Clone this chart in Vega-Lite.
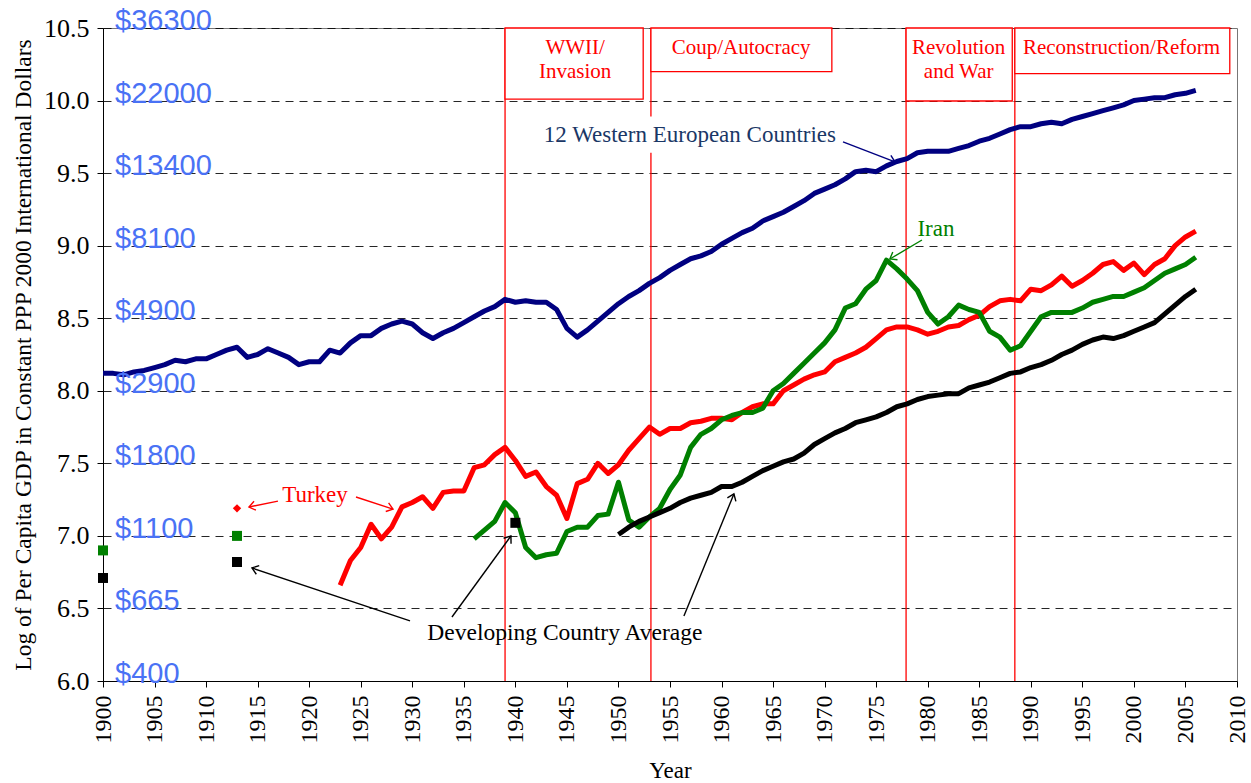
{
  "$schema": "https://vega.github.io/schema/vega-lite/v6.json",
  "width": 1134,
  "height": 653,
  "autosize": {"type": "none"},
  "padding": {"left": 103, "top": 28, "right": 14, "bottom": 102},
  "background": "white",
  "config": {
    "font": "Liberation Serif",
    "view": {"stroke": "#777", "strokeWidth": 1},
    "axis": {
      "labelFont": "Liberation Serif",
      "titleFont": "Liberation Serif",
      "labelColor": "#000",
      "titleColor": "#000",
      "domainColor": "#000",
      "tickColor": "#000",
      "titleFontWeight": "normal",
      "labelFontSize": 22,
      "titleFontSize": 21
    }
  },
  "datasets": {
    "series": [
      {"series":"Western Europe","year":1900,"value":8.12},{"series":"Western Europe","year":1901,"value":8.12},{"series":"Western Europe","year":1902,"value":8.11},{"series":"Western Europe","year":1903,"value":8.13},{"series":"Western Europe","year":1904,"value":8.14},{"series":"Western Europe","year":1905,"value":8.16},{"series":"Western Europe","year":1906,"value":8.18},{"series":"Western Europe","year":1907,"value":8.21},{"series":"Western Europe","year":1908,"value":8.20},{"series":"Western Europe","year":1909,"value":8.22},{"series":"Western Europe","year":1910,"value":8.22},{"series":"Western Europe","year":1911,"value":8.25},{"series":"Western Europe","year":1912,"value":8.28},{"series":"Western Europe","year":1913,"value":8.30},{"series":"Western Europe","year":1914,"value":8.23},{"series":"Western Europe","year":1915,"value":8.25},{"series":"Western Europe","year":1916,"value":8.29},{"series":"Western Europe","year":1917,"value":8.26},{"series":"Western Europe","year":1918,"value":8.23},{"series":"Western Europe","year":1919,"value":8.18},{"series":"Western Europe","year":1920,"value":8.20},{"series":"Western Europe","year":1921,"value":8.20},{"series":"Western Europe","year":1922,"value":8.28},{"series":"Western Europe","year":1923,"value":8.26},{"series":"Western Europe","year":1924,"value":8.33},{"series":"Western Europe","year":1925,"value":8.38},{"series":"Western Europe","year":1926,"value":8.38},{"series":"Western Europe","year":1927,"value":8.43},{"series":"Western Europe","year":1928,"value":8.46},{"series":"Western Europe","year":1929,"value":8.48},{"series":"Western Europe","year":1930,"value":8.46},{"series":"Western Europe","year":1931,"value":8.40},{"series":"Western Europe","year":1932,"value":8.36},{"series":"Western Europe","year":1933,"value":8.40},{"series":"Western Europe","year":1934,"value":8.43},{"series":"Western Europe","year":1935,"value":8.47},{"series":"Western Europe","year":1936,"value":8.51},{"series":"Western Europe","year":1937,"value":8.55},{"series":"Western Europe","year":1938,"value":8.58},{"series":"Western Europe","year":1939,"value":8.63},{"series":"Western Europe","year":1940,"value":8.61},{"series":"Western Europe","year":1941,"value":8.62},{"series":"Western Europe","year":1942,"value":8.61},{"series":"Western Europe","year":1943,"value":8.61},{"series":"Western Europe","year":1944,"value":8.56},{"series":"Western Europe","year":1945,"value":8.43},{"series":"Western Europe","year":1946,"value":8.37},{"series":"Western Europe","year":1947,"value":8.42},{"series":"Western Europe","year":1948,"value":8.48},{"series":"Western Europe","year":1949,"value":8.54},{"series":"Western Europe","year":1950,"value":8.60},{"series":"Western Europe","year":1951,"value":8.65},{"series":"Western Europe","year":1952,"value":8.69},{"series":"Western Europe","year":1953,"value":8.74},{"series":"Western Europe","year":1954,"value":8.78},{"series":"Western Europe","year":1955,"value":8.83},{"series":"Western Europe","year":1956,"value":8.87},{"series":"Western Europe","year":1957,"value":8.91},{"series":"Western Europe","year":1958,"value":8.93},{"series":"Western Europe","year":1959,"value":8.96},{"series":"Western Europe","year":1960,"value":9.01},{"series":"Western Europe","year":1961,"value":9.05},{"series":"Western Europe","year":1962,"value":9.09},{"series":"Western Europe","year":1963,"value":9.12},{"series":"Western Europe","year":1964,"value":9.17},{"series":"Western Europe","year":1965,"value":9.20},{"series":"Western Europe","year":1966,"value":9.23},{"series":"Western Europe","year":1967,"value":9.27},{"series":"Western Europe","year":1968,"value":9.31},{"series":"Western Europe","year":1969,"value":9.36},{"series":"Western Europe","year":1970,"value":9.39},{"series":"Western Europe","year":1971,"value":9.42},{"series":"Western Europe","year":1972,"value":9.46},{"series":"Western Europe","year":1973,"value":9.51},{"series":"Western Europe","year":1974,"value":9.52},{"series":"Western Europe","year":1975,"value":9.51},{"series":"Western Europe","year":1976,"value":9.55},{"series":"Western Europe","year":1977,"value":9.58},{"series":"Western Europe","year":1978,"value":9.60},{"series":"Western Europe","year":1979,"value":9.64},{"series":"Western Europe","year":1980,"value":9.65},{"series":"Western Europe","year":1981,"value":9.65},{"series":"Western Europe","year":1982,"value":9.65},{"series":"Western Europe","year":1983,"value":9.67},{"series":"Western Europe","year":1984,"value":9.69},{"series":"Western Europe","year":1985,"value":9.72},{"series":"Western Europe","year":1986,"value":9.74},{"series":"Western Europe","year":1987,"value":9.77},{"series":"Western Europe","year":1988,"value":9.80},{"series":"Western Europe","year":1989,"value":9.82},{"series":"Western Europe","year":1990,"value":9.82},{"series":"Western Europe","year":1991,"value":9.84},{"series":"Western Europe","year":1992,"value":9.85},{"series":"Western Europe","year":1993,"value":9.84},{"series":"Western Europe","year":1994,"value":9.87},{"series":"Western Europe","year":1995,"value":9.89},{"series":"Western Europe","year":1996,"value":9.91},{"series":"Western Europe","year":1997,"value":9.93},{"series":"Western Europe","year":1998,"value":9.95},{"series":"Western Europe","year":1999,"value":9.97},{"series":"Western Europe","year":2000,"value":10.00},{"series":"Western Europe","year":2001,"value":10.01},{"series":"Western Europe","year":2002,"value":10.02},{"series":"Western Europe","year":2003,"value":10.02},{"series":"Western Europe","year":2004,"value":10.04},{"series":"Western Europe","year":2005,"value":10.05},{"series":"Western Europe","year":2006,"value":10.07},
      {"series":"Turkey","year":1923,"value":6.66},{"series":"Turkey","year":1924,"value":6.83},{"series":"Turkey","year":1925,"value":6.92},{"series":"Turkey","year":1926,"value":7.08},{"series":"Turkey","year":1927,"value":6.98},{"series":"Turkey","year":1928,"value":7.06},{"series":"Turkey","year":1929,"value":7.20},{"series":"Turkey","year":1930,"value":7.23},{"series":"Turkey","year":1931,"value":7.27},{"series":"Turkey","year":1932,"value":7.19},{"series":"Turkey","year":1933,"value":7.30},{"series":"Turkey","year":1934,"value":7.31},{"series":"Turkey","year":1935,"value":7.31},{"series":"Turkey","year":1936,"value":7.47},{"series":"Turkey","year":1937,"value":7.49},{"series":"Turkey","year":1938,"value":7.56},{"series":"Turkey","year":1939,"value":7.61},{"series":"Turkey","year":1940,"value":7.52},{"series":"Turkey","year":1941,"value":7.41},{"series":"Turkey","year":1942,"value":7.44},{"series":"Turkey","year":1943,"value":7.34},{"series":"Turkey","year":1944,"value":7.28},{"series":"Turkey","year":1945,"value":7.12},{"series":"Turkey","year":1946,"value":7.36},{"series":"Turkey","year":1947,"value":7.39},{"series":"Turkey","year":1948,"value":7.50},{"series":"Turkey","year":1949,"value":7.43},{"series":"Turkey","year":1950,"value":7.49},{"series":"Turkey","year":1951,"value":7.59},{"series":"Turkey","year":1952,"value":7.67},{"series":"Turkey","year":1953,"value":7.75},{"series":"Turkey","year":1954,"value":7.70},{"series":"Turkey","year":1955,"value":7.74},{"series":"Turkey","year":1956,"value":7.74},{"series":"Turkey","year":1957,"value":7.78},{"series":"Turkey","year":1958,"value":7.79},{"series":"Turkey","year":1959,"value":7.81},{"series":"Turkey","year":1960,"value":7.81},{"series":"Turkey","year":1961,"value":7.80},{"series":"Turkey","year":1962,"value":7.85},{"series":"Turkey","year":1963,"value":7.89},{"series":"Turkey","year":1964,"value":7.91},{"series":"Turkey","year":1965,"value":7.91},{"series":"Turkey","year":1966,"value":8.00},{"series":"Turkey","year":1967,"value":8.04},{"series":"Turkey","year":1968,"value":8.08},{"series":"Turkey","year":1969,"value":8.11},{"series":"Turkey","year":1970,"value":8.13},{"series":"Turkey","year":1971,"value":8.20},{"series":"Turkey","year":1972,"value":8.23},{"series":"Turkey","year":1973,"value":8.26},{"series":"Turkey","year":1974,"value":8.30},{"series":"Turkey","year":1975,"value":8.36},{"series":"Turkey","year":1976,"value":8.42},{"series":"Turkey","year":1977,"value":8.44},{"series":"Turkey","year":1978,"value":8.44},{"series":"Turkey","year":1979,"value":8.42},{"series":"Turkey","year":1980,"value":8.39},{"series":"Turkey","year":1981,"value":8.41},{"series":"Turkey","year":1982,"value":8.44},{"series":"Turkey","year":1983,"value":8.45},{"series":"Turkey","year":1984,"value":8.49},{"series":"Turkey","year":1985,"value":8.52},{"series":"Turkey","year":1986,"value":8.58},{"series":"Turkey","year":1987,"value":8.62},{"series":"Turkey","year":1988,"value":8.63},{"series":"Turkey","year":1989,"value":8.62},{"series":"Turkey","year":1990,"value":8.70},{"series":"Turkey","year":1991,"value":8.69},{"series":"Turkey","year":1992,"value":8.73},{"series":"Turkey","year":1993,"value":8.79},{"series":"Turkey","year":1994,"value":8.72},{"series":"Turkey","year":1995,"value":8.76},{"series":"Turkey","year":1996,"value":8.81},{"series":"Turkey","year":1997,"value":8.87},{"series":"Turkey","year":1998,"value":8.89},{"series":"Turkey","year":1999,"value":8.83},{"series":"Turkey","year":2000,"value":8.88},{"series":"Turkey","year":2001,"value":8.80},{"series":"Turkey","year":2002,"value":8.87},{"series":"Turkey","year":2003,"value":8.91},{"series":"Turkey","year":2004,"value":9.00},{"series":"Turkey","year":2005,"value":9.06},{"series":"Turkey","year":2006,"value":9.10},
      {"series":"Iran","year":1936,"value":6.98},{"series":"Iran","year":1937,"value":7.04},{"series":"Iran","year":1938,"value":7.10},{"series":"Iran","year":1939,"value":7.23},{"series":"Iran","year":1940,"value":7.16},{"series":"Iran","year":1941,"value":6.92},{"series":"Iran","year":1942,"value":6.85},{"series":"Iran","year":1943,"value":6.87},{"series":"Iran","year":1944,"value":6.88},{"series":"Iran","year":1945,"value":7.03},{"series":"Iran","year":1946,"value":7.06},{"series":"Iran","year":1947,"value":7.06},{"series":"Iran","year":1948,"value":7.14},{"series":"Iran","year":1949,"value":7.15},{"series":"Iran","year":1950,"value":7.37},{"series":"Iran","year":1951,"value":7.11},{"series":"Iran","year":1952,"value":7.06},{"series":"Iran","year":1953,"value":7.13},{"series":"Iran","year":1954,"value":7.19},{"series":"Iran","year":1955,"value":7.32},{"series":"Iran","year":1956,"value":7.42},{"series":"Iran","year":1957,"value":7.61},{"series":"Iran","year":1958,"value":7.70},{"series":"Iran","year":1959,"value":7.74},{"series":"Iran","year":1960,"value":7.80},{"series":"Iran","year":1961,"value":7.83},{"series":"Iran","year":1962,"value":7.85},{"series":"Iran","year":1963,"value":7.85},{"series":"Iran","year":1964,"value":7.88},{"series":"Iran","year":1965,"value":8.00},{"series":"Iran","year":1966,"value":8.05},{"series":"Iran","year":1967,"value":8.12},{"series":"Iran","year":1968,"value":8.19},{"series":"Iran","year":1969,"value":8.26},{"series":"Iran","year":1970,"value":8.33},{"series":"Iran","year":1971,"value":8.42},{"series":"Iran","year":1972,"value":8.57},{"series":"Iran","year":1973,"value":8.60},{"series":"Iran","year":1974,"value":8.70},{"series":"Iran","year":1975,"value":8.76},{"series":"Iran","year":1976,"value":8.90},{"series":"Iran","year":1977,"value":8.84},{"series":"Iran","year":1978,"value":8.77},{"series":"Iran","year":1979,"value":8.69},{"series":"Iran","year":1980,"value":8.54},{"series":"Iran","year":1981,"value":8.46},{"series":"Iran","year":1982,"value":8.51},{"series":"Iran","year":1983,"value":8.59},{"series":"Iran","year":1984,"value":8.56},{"series":"Iran","year":1985,"value":8.54},{"series":"Iran","year":1986,"value":8.41},{"series":"Iran","year":1987,"value":8.37},{"series":"Iran","year":1988,"value":8.28},{"series":"Iran","year":1989,"value":8.31},{"series":"Iran","year":1990,"value":8.41},{"series":"Iran","year":1991,"value":8.51},{"series":"Iran","year":1992,"value":8.54},{"series":"Iran","year":1993,"value":8.54},{"series":"Iran","year":1994,"value":8.54},{"series":"Iran","year":1995,"value":8.57},{"series":"Iran","year":1996,"value":8.61},{"series":"Iran","year":1997,"value":8.63},{"series":"Iran","year":1998,"value":8.65},{"series":"Iran","year":1999,"value":8.65},{"series":"Iran","year":2000,"value":8.68},{"series":"Iran","year":2001,"value":8.71},{"series":"Iran","year":2002,"value":8.76},{"series":"Iran","year":2003,"value":8.81},{"series":"Iran","year":2004,"value":8.84},{"series":"Iran","year":2005,"value":8.87},{"series":"Iran","year":2006,"value":8.92},
      {"series":"Developing","year":1950,"value":7.01},{"series":"Developing","year":1951,"value":7.06},{"series":"Developing","year":1952,"value":7.10},{"series":"Developing","year":1953,"value":7.13},{"series":"Developing","year":1954,"value":7.16},{"series":"Developing","year":1955,"value":7.19},{"series":"Developing","year":1956,"value":7.23},{"series":"Developing","year":1957,"value":7.26},{"series":"Developing","year":1958,"value":7.28},{"series":"Developing","year":1959,"value":7.30},{"series":"Developing","year":1960,"value":7.34},{"series":"Developing","year":1961,"value":7.34},{"series":"Developing","year":1962,"value":7.37},{"series":"Developing","year":1963,"value":7.41},{"series":"Developing","year":1964,"value":7.45},{"series":"Developing","year":1965,"value":7.48},{"series":"Developing","year":1966,"value":7.51},{"series":"Developing","year":1967,"value":7.53},{"series":"Developing","year":1968,"value":7.57},{"series":"Developing","year":1969,"value":7.63},{"series":"Developing","year":1970,"value":7.67},{"series":"Developing","year":1971,"value":7.71},{"series":"Developing","year":1972,"value":7.74},{"series":"Developing","year":1973,"value":7.78},{"series":"Developing","year":1974,"value":7.80},{"series":"Developing","year":1975,"value":7.82},{"series":"Developing","year":1976,"value":7.85},{"series":"Developing","year":1977,"value":7.89},{"series":"Developing","year":1978,"value":7.91},{"series":"Developing","year":1979,"value":7.94},{"series":"Developing","year":1980,"value":7.96},{"series":"Developing","year":1981,"value":7.97},{"series":"Developing","year":1982,"value":7.98},{"series":"Developing","year":1983,"value":7.98},{"series":"Developing","year":1984,"value":8.02},{"series":"Developing","year":1985,"value":8.04},{"series":"Developing","year":1986,"value":8.06},{"series":"Developing","year":1987,"value":8.09},{"series":"Developing","year":1988,"value":8.12},{"series":"Developing","year":1989,"value":8.13},{"series":"Developing","year":1990,"value":8.16},{"series":"Developing","year":1991,"value":8.18},{"series":"Developing","year":1992,"value":8.21},{"series":"Developing","year":1993,"value":8.25},{"series":"Developing","year":1994,"value":8.28},{"series":"Developing","year":1995,"value":8.32},{"series":"Developing","year":1996,"value":8.35},{"series":"Developing","year":1997,"value":8.37},{"series":"Developing","year":1998,"value":8.36},{"series":"Developing","year":1999,"value":8.38},{"series":"Developing","year":2000,"value":8.41},{"series":"Developing","year":2001,"value":8.44},{"series":"Developing","year":2002,"value":8.47},{"series":"Developing","year":2003,"value":8.53},{"series":"Developing","year":2004,"value":8.59},{"series":"Developing","year":2005,"value":8.65},{"series":"Developing","year":2006,"value":8.70}
    ],
    "squares": [
      {"series":"Iran","year":1900,"value":6.90},
      {"series":"Iran","year":1913,"value":7.00},
      {"series":"Developing","year":1900,"value":6.71},
      {"series":"Developing","year":1913,"value":6.82},
      {"series":"Developing","year":1940,"value":7.09}
    ],
    "diamonds": [
      {"series":"Turkey","year":1913,"value":7.19}
    ],
    "dividers": [
      {"year":1939},{"year":1953.15},{"year":1977.9},{"year":1988.45}
    ],
    "boxes": [
      {"period":"WWII/Invasion","x1":1939,"x2":1952.4,"y1":10.5,"y2":10.01},
      {"period":"Coup/Autocracy","x1":1953.15,"x2":1970.7,"y1":10.5,"y2":10.2},
      {"period":"Revolution and War","x1":1977.9,"x2":1988.2,"y1":10.5,"y2":9.997},
      {"period":"Reconstruction/Reform","x1":1988.45,"x2":2009.3,"y1":10.5,"y2":10.185}
    ],
    "periodText": [
      {"text":"WWII/","year":1945.8,"value":10.362},
      {"text":"Invasion","year":1945.8,"value":10.197},
      {"text":"Coup/Autocracy","year":1961.9,"value":10.362},
      {"text":"Revolution","year":1983.0,"value":10.362},
      {"text":"and War","year":1983.0,"value":10.197},
      {"text":"Reconstruction/Reform","year":1998.8,"value":10.362}
    ],
    "dollars": [
      {"label":"$36300","value":10.5},{"label":"$22000","value":10.0},{"label":"$13400","value":9.5},{"label":"$8100","value":9.0},{"label":"$4900","value":8.5},{"label":"$2900","value":8.0},{"label":"$1800","value":7.5},{"label":"$1100","value":7.0},{"label":"$665","value":6.5},{"label":"$400","value":6.0}
    ],
    "arrows": [
      {"series":"Western Europe","x1":1971.78,"y1":9.715,"x2":1976.82,"y2":9.577,"angle":21},
      {"series":"Iran","x1":1979.44,"y1":9.039,"x2":1976.33,"y2":8.908,"angle":149},
      {"series":"Turkey","x1":1924.54,"y1":7.268,"x2":1928.13,"y2":7.185,"angle":18},
      {"series":"Turkey","x1":1916.97,"y1":7.24,"x2":1914.16,"y2":7.199,"angle":168},
      {"series":"Developing","x1":1929.78,"y1":6.414,"x2":1914.45,"y2":6.779,"angle":198.5},
      {"series":"Developing","x1":1933.85,"y1":6.441,"x2":1939.57,"y2":6.999,"angle":-54},
      {"series":"Developing","x1":1956.35,"y1":6.448,"x2":1961.2,"y2":7.289,"angle":-68}
    ]
  },
  "layer": [
    {
      "data": {"name": "dividers"},
      "mark": {"type": "rule", "color": "#ff0000", "strokeWidth": 1.3},
      "encoding": {
        "x": {
          "field": "year", "type": "quantitative",
          "scale": {"domain": [1900, 2010], "nice": false, "zero": false},
          "axis": {
            "title": "Year",
            "values": [1900,1905,1910,1915,1920,1925,1930,1935,1940,1945,1950,1955,1960,1965,1970,1975,1980,1985,1990,1995,2000,2005,2010],
            "format": "d",
            "labelAngle": 270,
            "labelFontSize": 24,
            "labelPadding": 8,
            "tickSize": 6,
            "grid": false,
            "titleFontSize": 23,
            "titlePadding": 16,
            "labelFlush": false,
            "labelOverlap": false
          }
        },
        "y": {
          "datum": 6, "type": "quantitative",
          "scale": {"domain": [6, 10.5], "nice": false, "zero": false},
          "axis": {
            "title": "Log of Per Capita GDP in Constant PPP 2000 International Dollars",
            "values": [6,6.5,7,7.5,8,8.5,9,9.5,10,10.5],
            "format": ".1f",
            "grid": true,
            "gridColor": "#000",
            "gridDash": [8, 6],
            "gridWidth": 1,
            "gridOpacity": 0.85,
            "tickSize": 6,
            "labelPadding": 8,
            "labelFontSize": 26,
            "labelFlush": false,
            "titleFontSize": 23.5,
            "titlePadding": 8
          }
        },
        "y2": {"datum": 10.5}
      }
    },
    {
      "data": {"values": [{"x1": 1943.2, "x2": 1971.6, "y1": 9.64, "y2": 9.89}]},
      "mark": {"type": "rect", "fill": "white"},
      "encoding": {
        "x": {"field": "x1", "type": "quantitative"},
        "x2": {"field": "x2"},
        "y": {"field": "y1", "type": "quantitative"},
        "y2": {"field": "y2"}
      }
    },
    {
      "data": {"name": "boxes"},
      "mark": {"type": "rect", "fill": "white", "stroke": "#ff0000", "strokeWidth": 1.3},
      "encoding": {
        "x": {"field": "x1", "type": "quantitative"},
        "x2": {"field": "x2"},
        "y": {"field": "y1", "type": "quantitative"},
        "y2": {"field": "y2"}
      }
    },
    {
      "data": {"name": "periodText"},
      "mark": {"type": "text", "color": "#ff0000", "font": "Liberation Serif", "fontSize": 21, "baseline": "middle", "align": "center"},
      "encoding": {
        "x": {"field": "year", "type": "quantitative"},
        "y": {"field": "value", "type": "quantitative"},
        "text": {"field": "text"}
      }
    },
    {
      "data": {"name": "series"},
      "mark": {"type": "line", "strokeWidth": 5, "strokeJoin": "round", "strokeCap": "butt", "clip": false},
      "encoding": {
        "x": {"field": "year", "type": "quantitative"},
        "y": {"field": "value", "type": "quantitative"},
        "color": {
          "field": "series", "type": "nominal",
          "scale": {"domain": ["Western Europe", "Turkey", "Iran", "Developing"], "range": ["#000080", "#ff0000", "#008000", "#000000"]},
          "legend": null
        },
        "detail": {"field": "series"}
      }
    },
    {
      "data": {"name": "squares"},
      "mark": {"type": "point", "shape": "square", "filled": true, "size": 100, "opacity": 1, "clip": false},
      "encoding": {
        "x": {"field": "year", "type": "quantitative"},
        "y": {"field": "value", "type": "quantitative"},
        "color": {"field": "series", "type": "nominal", "legend": null}
      }
    },
    {
      "data": {"name": "diamonds"},
      "mark": {"type": "point", "shape": "diamond", "filled": true, "size": 70, "opacity": 1},
      "encoding": {
        "x": {"field": "year", "type": "quantitative"},
        "y": {"field": "value", "type": "quantitative"},
        "color": {"field": "series", "type": "nominal", "legend": null}
      }
    },
    {
      "data": {"name": "arrows"},
      "mark": {"type": "rule", "strokeWidth": 1.4},
      "encoding": {
        "x": {"field": "x1", "type": "quantitative"},
        "y": {"field": "y1", "type": "quantitative"},
        "x2": {"field": "x2"},
        "y2": {"field": "y2"},
        "color": {"field": "series", "type": "nominal", "legend": null}
      }
    },
    {
      "data": {"name": "arrows"},
      "mark": {"type": "point", "shape": "M-1,-0.75L0,0L-1,0.75", "filled": false, "size": 150, "strokeWidth": 1.4, "opacity": 1},
      "encoding": {
        "x": {"field": "x2", "type": "quantitative"},
        "y": {"field": "y2", "type": "quantitative"},
        "angle": {"field": "angle", "type": "quantitative", "scale": null},
        "color": {"field": "series", "type": "nominal", "legend": null}
      }
    },
    {
      "data": {"values": [{"text": "12 Western European Countries", "year": 1956.93, "value": 9.763}]},
      "mark": {"type": "text", "color": "#1a3766", "font": "Liberation Serif", "fontSize": 23, "align": "center", "baseline": "middle"},
      "encoding": {
        "x": {"field": "year", "type": "quantitative"},
        "y": {"field": "value", "type": "quantitative"},
        "text": {"field": "text"}
      }
    },
    {
      "data": {"values": [{"text": "Iran", "year": 1980.8, "value": 9.115}]},
      "mark": {"type": "text", "color": "#008000", "font": "Liberation Serif", "fontSize": 23, "align": "center", "baseline": "middle"},
      "encoding": {
        "x": {"field": "year", "type": "quantitative"},
        "y": {"field": "value", "type": "quantitative"},
        "text": {"field": "text"}
      }
    },
    {
      "data": {"values": [{"text": "Turkey", "year": 1920.56, "value": 7.282}]},
      "mark": {"type": "text", "color": "#ff0000", "font": "Liberation Serif", "fontSize": 23, "align": "center", "baseline": "middle"},
      "encoding": {
        "x": {"field": "year", "type": "quantitative"},
        "y": {"field": "value", "type": "quantitative"},
        "text": {"field": "text"}
      }
    },
    {
      "data": {"values": [{"text": "Developing Country Average", "year": 1944.8, "value": 6.331}]},
      "mark": {"type": "text", "color": "#000000", "font": "Liberation Serif", "fontSize": 23.5, "align": "center", "baseline": "middle"},
      "encoding": {
        "x": {"field": "year", "type": "quantitative"},
        "y": {"field": "value", "type": "quantitative"},
        "text": {"field": "text"}
      }
    },
    {
      "data": {"name": "dollars"},
      "mark": {"type": "text", "color": "#4a72f5", "font": "Liberation Sans", "fontSize": 29, "align": "left", "baseline": "alphabetic", "dx": 12, "dy": 2, "clip": false},
      "encoding": {
        "x": {"datum": 1900, "type": "quantitative"},
        "y": {"field": "value", "type": "quantitative"},
        "text": {"field": "label"}
      }
    }
  ]
}
